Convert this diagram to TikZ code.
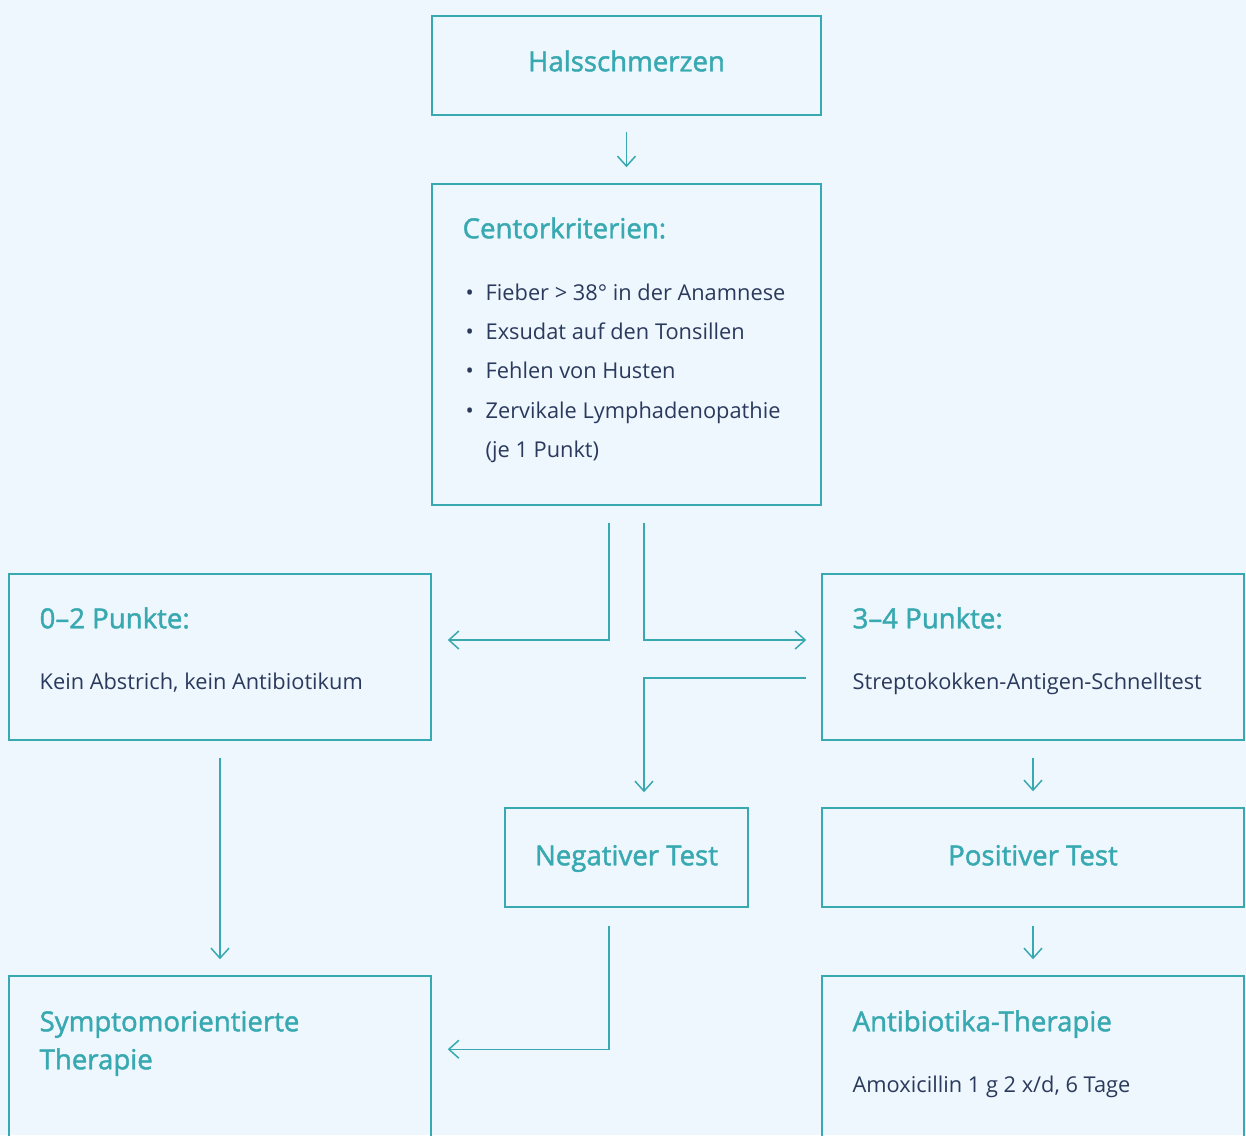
\documentclass[tikz,border=0pt]{standalone}
\usepackage{fontspec}
\setmainfont{Open Sans}
\newfontfamily\headfont{Open Sans}[FakeBold=1.6]
\usetikzlibrary{arrows.meta,calc}
\definecolor{teal1}{HTML}{38A9B1}
\definecolor{bgblue}{HTML}{EEF7FE}
\definecolor{navy}{HTML}{2B3A5C}
\newcommand{\px}{0.5pt}
\tikzset{
  box/.style 2 args={draw=teal1, line width=0.75pt, minimum width=#1*\px, minimum height=#2*\px, inner sep=0pt},
  head/.style={text=teal1, font=\headfont\fontsize{13.8}{16}\selectfont, inner sep=0pt},
  body/.style={text=navy, font=\fontsize{10.9}{13}\selectfont, inner sep=0pt},
  arrow/.style={draw=teal1, line width=0.75pt, -{Straight Barb[length=5pt,width=9pt]}},
}

\begin{document}
\begin{tikzpicture}[x=\px, y=-\px]
\fill[bgblue] (0,0) rectangle (1246,1135);
\useasboundingbox (0,0) rectangle (1246,1135);
\clip (0,0) rectangle (1246,1135);

% Kaesten
\node[box={389}{99}] (hals) at (626.5,65.5) {};
\node[box={389}{321}] (cent) at (626.5,344.5) {};
\node[box={422}{166}] (low) at (220,657) {};
\node[box={422}{166}] (high) at (1033,657) {};
\node[box={243}{99}] (neg) at (626.5,857.5) {};
\node[box={422}{99}] (pos) at (1033,857.5) {};
\node[box={422}{200}] (symp) at (220,1076) {};
\node[box={422}{200}] (anti) at (1033,1076) {};

% Texte
\node[head, anchor=base] at ($(hals.north)+(0,56)$) {Halsschmerzen};
\node[head, anchor=base west] at ($(cent.north west)+(31,55)$) {Centorkriterien:};
\foreach \i/\t in {0/Fieber > 38° in der Anamnese, 1/Exsudat auf den Tonsillen, 2/Fehlen von Husten, 3/Zervikale Lymphadenopathie} {
  \node[body, anchor=base] at ($(cent.north west)+(38.5,117+39.3*\i)$) {•};
  \node[body, anchor=base west] at ($(cent.north west)+(54,117+39.3*\i)$) {\t};
}
\node[body, anchor=base west] at ($(cent.north west)+(54,274)$) {(je 1 Punkt)};
\node[head, anchor=base west] at ($(low.north west)+(31,55)$) {0–2 Punkte:};
\node[body, anchor=base west] at ($(low.north west)+(31,116)$) {Kein Abstrich, kein Antibiotikum};
\node[head, anchor=base west] at ($(high.north west)+(31,55)$) {3–4 Punkte:};
\node[body, anchor=base west] at ($(high.north west)+(31,116)$) {Streptokokken-Antigen-Schnelltest};
\node[head, anchor=base] at ($(neg.north)+(0,58)$) {Negativer Test};
\node[head, anchor=base] at ($(pos.north)+(0,58)$) {Positiver Test};
\node[head, anchor=base west] at ($(symp.north west)+(31,56)$) {Symptomorientierte};
\node[head, anchor=base west] at ($(symp.north west)+(31,94)$) {Therapie};
\node[head, anchor=base west] at ($(anti.north west)+(31,56)$) {Antibiotika-Therapie};
\node[body, anchor=base west] at ($(anti.north west)+(31,117)$) {Amoxicillin 1 g 2 x/d, 6 Tage};

% Pfeile
\draw[arrow] ($(hals.south)+(0,16)$) -- ($(cent.north)+(0,-16)$);
\draw[arrow] ($(cent.south)+(-17.5,17)$) |- ($(low.east)+(16,-17)$);
\draw[arrow] ($(cent.south)+(17.5,17)$) |- ($(high.west)+(-15,-17)$);
\draw[arrow] ($(high.west)+(-15,21)$) -| ($(neg.north)+(17.5,-15)$);
\draw[arrow] ($(high.south)+(0,17)$) -- ($(pos.north)+(0,-16)$);
\draw[arrow] ($(low.south)+(0,17)$) -- ($(symp.north)+(0,-16)$);
\draw[arrow] ($(neg.south)+(-17.5,18)$) |- ($(symp.north east)+(16,74)$);
\draw[arrow] ($(pos.south)+(0,18)$) -- ($(anti.north)+(0,-16)$);
\end{tikzpicture}
\end{document}
